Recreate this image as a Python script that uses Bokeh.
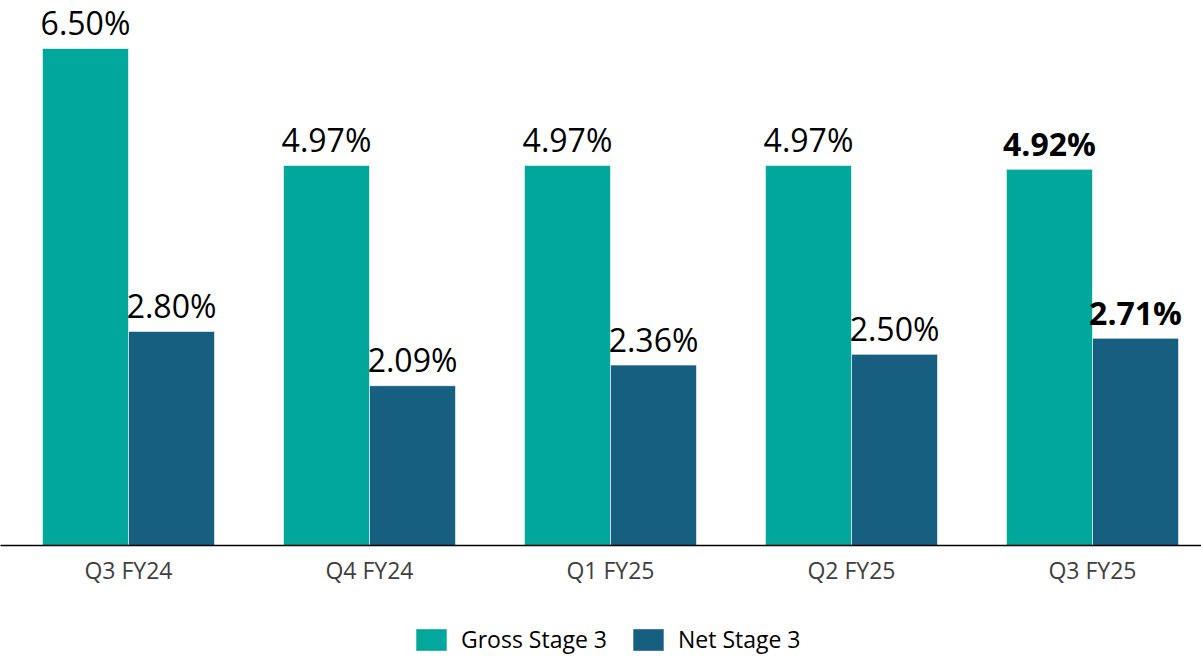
from bokeh.plotting import figure
from bokeh.models import ColumnDataSource, Range1d, FixedTicker, Legend, LegendItem
from bokeh.layouts import column
from bokeh.transform import dodge
from bokeh.core.properties import value
from bokeh.embed import file_html
from bokeh.resources import INLINE

categories = ["Q3 FY24", "Q4 FY24", "Q1 FY25", "Q2 FY25", "Q3 FY25"]
gross = [6.50, 4.97, 4.97, 4.97, 4.92]
net = [2.80, 2.09, 2.36, 2.50, 2.71]
series_names = ["Gross Stage 3", "Net Stage 3"]
colors = ["#00A79A", "#175F80"]
bold_last = [False, False, False, False, True]

xc = [i + 0.5 for i in range(len(categories))]
src = ColumnDataSource(dict(
    x=xc,
    gross=gross,
    net=net,
    glab=[f"{v:.2f}%" for v in gross],
    nlab=[f"{v:.2f}%" for v in net],
    style=["bold" if b else "normal" for b in bold_last],
))

W = 1201
cat_px = 241.0
x0 = -7.5 / cat_px
p = figure(width=W, height=600, output_backend="svg", toolbar_location=None,
           x_range=Range1d(x0, x0 + W / cat_px), y_range=Range1d(0, 545 / 76.46),
           min_border_left=0, min_border_right=0, min_border_top=0,
           min_border_bottom=55)
p.outline_line_color = None
p.grid.grid_line_color = None
p.yaxis.visible = False
p.background_fill_color = "white"
p.border_fill_color = "white"

bw = 0.357
g = p.vbar(x=dodge("x", -bw / 2), top="gross", width=bw, source=src,
           fill_color=colors[0], line_color="white", line_width=1, line_alpha=0.6)
n = p.vbar(x=dodge("x", bw / 2), top="net", width=bw, source=src,
           fill_color=colors[1], line_color="white", line_width=1, line_alpha=0.6)

p.text(x=dodge("x", -bw / 2), y="gross", text="glab", source=src,
       text_align="center", text_baseline="alphabetic", y_offset=-26,
       text_font=value("Open Sans"), text_font_size="32px",
       text_font_style="style", text_color="black")
p.text(x=dodge("x", bw / 2), y="net", text="nlab", source=src,
       text_align="center", text_baseline="alphabetic", y_offset=-26,
       text_font=value("Open Sans"), text_font_size="32px",
       text_font_style="style", text_color="black")

ax = p.xaxis[0]
ax.ticker = FixedTicker(ticks=xc)
ax.major_label_overrides = {x: c for x, c in zip(xc, categories)}
ax.major_tick_line_color = None
ax.minor_tick_line_color = None
ax.axis_line_color = "black"
ax.axis_line_width = 1.5
ax.major_label_text_font = "Open Sans"
ax.major_label_text_font_size = "23px"
ax.major_label_text_color = "#404040"
ax.major_label_standoff = 2

# legend strip
lg = figure(width=W, height=58, output_backend="svg", toolbar_location=None,
            x_range=Range1d(0, 1), y_range=Range1d(100, 101),
            min_border_left=0, min_border_right=0, min_border_top=0,
            min_border_bottom=0)
lg.outline_line_color = None
lg.axis.visible = False
lg.grid.grid_line_color = None
g2 = lg.vbar(x="x", top="gross", width=bw, source=src, fill_color=colors[0],
             line_color=None)
n2 = lg.vbar(x="x", top="net", width=bw, source=src, fill_color=colors[1],
             line_color=None)
legend = Legend(items=[LegendItem(label=series_names[0], renderers=[g2]),
                       LegendItem(label=series_names[1], renderers=[n2])],
                orientation="horizontal", location=(412, 3),
                glyph_width=38, glyph_height=27, label_text_font="Open Sans",
                label_text_font_size="23px", label_text_color="black",
                border_line_color=None, background_fill_alpha=0,
                spacing=22, label_standoff=11, margin=0, padding=0)
lg.add_layout(legend, "center")

layout = column(p, lg, spacing=0)
open("out.html", "w").write(file_html(layout, INLINE))
